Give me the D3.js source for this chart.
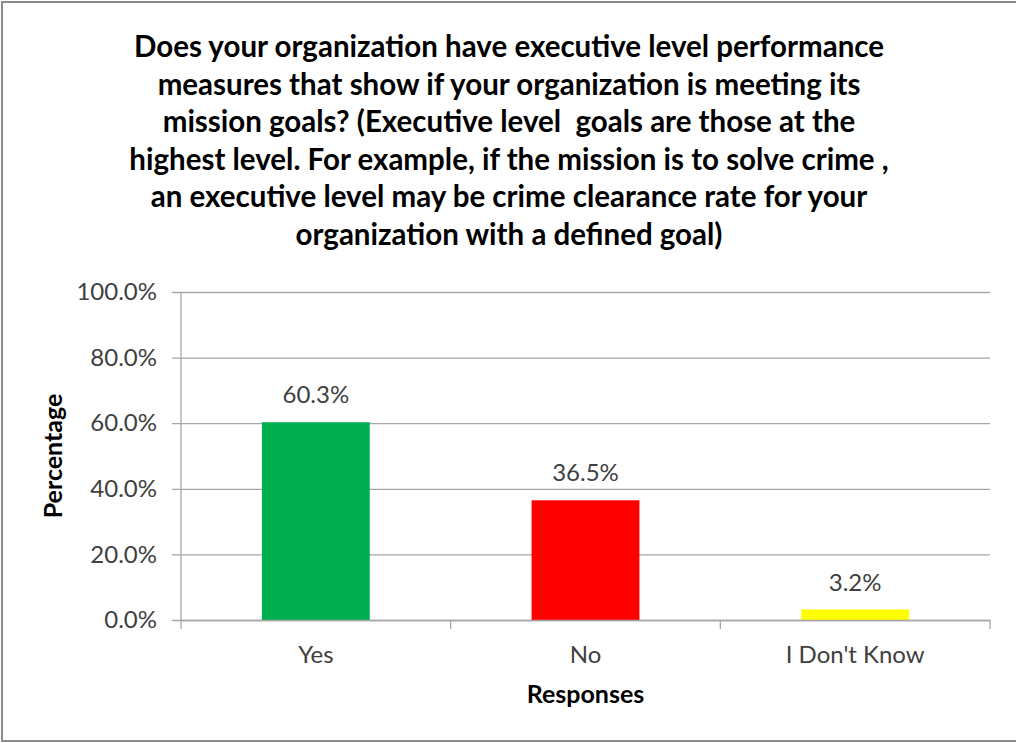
<!DOCTYPE html>
<html>
<head>
<meta charset="utf-8">
<script src="https://cdn.jsdelivr.net/npm/d3@7"></script>
<style>
  html, body { margin: 0; padding: 0; background: #fff; }
  svg { display: block; font-family: Lato, "Open Sans", sans-serif; }
</style>
</head>
<body>
<div id="chart"></div>
<script>
// Chart data
const categories = ["Yes", "No", "I Don't Know"];
const percentages = [0.603, 0.365, 0.032];
const barColors = ["#00B050", "#FF0000", "#FFFF00"];
const yTicks = [0, 0.2, 0.4, 0.6, 0.8, 1.0];
const titleLines = [
    "Does your organization have executive level performance",
    "measures that show if your organization is meeting its",
    "mission goals? (Executive level  goals are those at the",
    "highest level. For example, if the mission is to solve crime ,",
    "an executive level may be crime clearance rate for your",
    "organization with a defined goal)"
];

const width = 1016;
const height = 743;
const margin = { top: 292, right: 26, bottom: 123, left: 181 };

const svg = d3.select("#chart")
    .append("svg")
    .attr("width", width)
    .attr("height", height);

// Outer frame (right edge runs off the picture)
svg.append("rect")
    .attr("x", 2)
    .attr("y", 2)
    .attr("width", width + 20)
    .attr("height", height - 4)
    .attr("fill", "#fff")
    .attr("stroke", "#8c8c8c")
    .attr("stroke-width", 2);

const x = d3.scaleBand()
    .domain(categories)
    .range([margin.left, width - margin.right])
    .padding(0);

const y = d3.scaleLinear()
    .domain([0, 1])
    .range([height - margin.bottom, margin.top]);

// Title
svg.append("text")
    .attr("text-anchor", "middle")
    .attr("font-weight", "bold")
    .attr("font-size", "29.5px")
    .attr("fill", "#000")
    .selectAll("tspan")
    .data(titleLines)
    .join("tspan")
    .attr("x", 509)
    .attr("y", (d, i) => 57 + i * 37.5)
    .attr("xml:space", "preserve")
    .text(d => d);

// Y grid + labels
const yAxis = svg.append("g")
    .attr("transform", `translate(${margin.left - 9},0)`)
    .call(d3.axisLeft(y)
        .tickValues(yTicks)
        .tickFormat(d3.format(".1%"))
        .tickSizeInner(-(width - margin.right - margin.left + 9))
        .tickSizeOuter(0)
        .tickPadding(15));
yAxis.select(".domain").remove();
yAxis.selectAll("line").attr("stroke", "#a6a6a6").attr("stroke-width", 1.3);
yAxis.selectAll("text")
    .attr("font-size", "24px")
    .attr("fill", "#404040")
    .attr("font-family", "Lato, sans-serif");

// Vertical axis line
svg.append("line")
    .attr("x1", margin.left)
    .attr("x2", margin.left)
    .attr("y1", y(1))
    .attr("y2", y(0))
    .attr("stroke", "#a6a6a6")
    .attr("stroke-width", 1.3);

// Bars
svg.selectAll(".bar")
    .data(categories)
    .join("rect")
    .attr("class", "bar")
    .attr("x", d => x(d) + x.bandwidth() * 0.3)
    .attr("width", x.bandwidth() * 0.4)
    .attr("y", (d, i) => y(percentages[i]))
    .attr("height", (d, i) => y(0) - y(percentages[i]))
    .attr("fill", (d, i) => barColors[i]);

// Value labels
svg.selectAll(".value")
    .data(categories)
    .join("text")
    .attr("class", "value")
    .attr("text-anchor", "middle")
    .attr("x", d => x(d) + x.bandwidth() / 2)
    .attr("y", (d, i) => y(percentages[i]) - 19)
    .attr("font-size", "24px")
    .attr("fill", "#404040")
    .text((d, i) => d3.format(".1%")(percentages[i]));

// X axis: baseline + boundary ticks
const xAxis = svg.append("g")
    .attr("transform", `translate(0,${y(0)})`)
    .call(d3.axisBottom(x).tickSize(0).tickPadding(26));
xAxis.select(".domain")
    .attr("stroke", "#a6a6a6")
    .attr("stroke-width", 1.3);
xAxis.selectAll("text")
    .attr("font-size", "24px")
    .attr("fill", "#404040")
    .attr("font-family", "Lato, sans-serif");

const boundaries = categories.map(d => x(d)).concat([x.range()[1]]);
xAxis.selectAll(".bound")
    .data(boundaries)
    .join("line")
    .attr("class", "bound")
    .attr("x1", d => d)
    .attr("x2", d => d)
    .attr("y1", 0)
    .attr("y2", 9)
    .attr("stroke", "#a6a6a6")
    .attr("stroke-width", 1.3);

// Axis titles
svg.append("text")
    .attr("text-anchor", "middle")
    .attr("x", (margin.left + width - margin.right) / 2)
    .attr("y", 703)
    .attr("font-weight", "bold")
    .attr("font-size", "25px")
    .attr("fill", "#000")
    .text("Responses");

svg.append("text")
    .attr("text-anchor", "middle")
    .attr("transform", "rotate(-90)")
    .attr("x", -(y(0) + y(1)) / 2)
    .attr("y", 62)
    .attr("font-weight", "bold")
    .attr("font-size", "25px")
    .attr("fill", "#000")
    .text("Percentage");
</script>
</body>
</html>
